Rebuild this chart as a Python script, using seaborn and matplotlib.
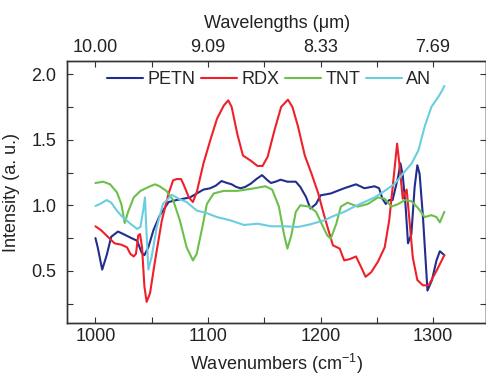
import matplotlib
matplotlib.use("Agg")
import matplotlib.pyplot as plt
from matplotlib.ticker import MultipleLocator, FixedLocator
import numpy as np
import pandas as pd
import seaborn as sns

# wavenumber (cm-1) and intensity
petn_x = [1000, 1002, 1006, 1010, 1014, 1020, 1025, 1032, 1037, 1041, 1043.5, 1047,
          1051.5, 1057, 1065, 1072, 1078, 1084, 1090, 1096, 1102, 1107, 1112, 1117,
          1121, 1125, 1129, 1133, 1138, 1143, 1148, 1153, 1156, 1160, 1164.5, 1170.6,
          1178, 1182, 1187, 1191, 1196, 1200, 1209, 1221, 1231.5, 1239, 1248, 1252,
          1255, 1258, 1261, 1264, 1269, 1271, 1273, 1275.5, 1277.7, 1280.7, 1283.6,
          1286, 1288, 1291, 1295, 1299, 1303, 1306, 1310]
petn_y = [0.75, 0.68, 0.51, 0.62, 0.76, 0.80, 0.78, 0.75, 0.73, 0.64, 0.62, 0.68,
          0.81, 0.92, 1.025, 1.04, 1.05, 1.06, 1.09, 1.12, 1.13, 1.15, 1.185, 1.17,
          1.16, 1.14, 1.13, 1.14, 1.165, 1.20, 1.23, 1.19, 1.17, 1.18, 1.195, 1.18,
          1.18, 1.14, 1.065, 0.975, 1.01, 1.076, 1.09, 1.13, 1.16, 1.13, 1.145, 1.13,
          1.05, 1.01, 1.04, 1.04, 1.22, 1.32, 1.23, 1.0, 0.71, 0.78, 1.14,
          1.305, 1.24, 0.91, 0.35, 0.43, 0.58, 0.65, 0.62]

rdx_x = [1000, 1005, 1011, 1017, 1023, 1028, 1031, 1034, 1036, 1038, 1039.6, 1041.4,
         1043.5, 1045.5, 1048.5, 1053, 1059, 1065, 1069, 1072, 1076, 1078, 1083, 1086.6,
         1090, 1096, 1102, 1108, 1114, 1118, 1121, 1126, 1131, 1138, 1144, 1148.5, 1153,
         1159, 1165, 1171, 1175, 1180, 1186, 1192, 1198, 1202, 1207, 1211, 1217, 1221,
         1226, 1231.5, 1236, 1240, 1245, 1251, 1257, 1261, 1265, 1268, 1270, 1273,
         1276.5, 1279, 1282, 1286, 1291, 1296, 1303, 1310]
rdx_y = [0.84, 0.81, 0.76, 0.71, 0.70, 0.68, 0.63, 0.61, 0.63, 0.77, 0.78, 0.68,
         0.38, 0.264, 0.33, 0.58, 0.885, 1.09, 1.19, 1.20, 1.20, 1.165, 1.06, 1.025,
         1.10, 1.32, 1.495, 1.66, 1.76, 1.80, 1.75, 1.545, 1.38, 1.34, 1.30, 1.30, 1.37,
         1.57, 1.75, 1.805, 1.75, 1.60, 1.38, 1.24, 1.09, 0.96, 0.81, 0.695, 0.67, 0.58,
         0.59, 0.61, 0.53, 0.455, 0.49, 0.57, 0.68, 0.885, 1.215, 1.47, 1.32, 1.05,
         1.12, 0.885, 0.60, 0.43, 0.39, 0.39, 0.50, 0.62]

tnt_x = [1000, 1007, 1013, 1019, 1023, 1026, 1029, 1034, 1040, 1048.5, 1053, 1057,
         1063, 1069, 1075, 1081, 1086.6, 1090, 1095, 1099, 1105, 1114, 1126, 1138,
         1151, 1157, 1163, 1167.5, 1170.5, 1174, 1178, 1182, 1190, 1196, 1202, 1206,
         1209, 1214, 1218, 1224, 1233, 1242, 1251, 1257, 1263, 1269, 1275, 1281, 1287,
         1292.5, 1298.5, 1303, 1306, 1310]
tnt_y = [1.17, 1.18, 1.16, 1.10, 1.01, 0.865, 0.95, 1.06, 1.11, 1.145, 1.16, 1.145,
         1.11, 1.04, 0.885, 0.68, 0.58, 0.63, 0.835, 1.01, 1.09, 1.11, 1.11, 1.125,
         1.145, 1.12, 0.99, 0.78, 0.67, 0.77, 0.95, 1.0, 0.99, 0.95, 0.84, 0.77,
         0.745, 0.86, 0.99, 1.02, 0.99, 1.01, 1.06, 1.05, 0.99, 1.01, 1.04, 1.03, 0.975,
         0.91, 0.925, 0.91, 0.87, 0.95]

an_x = [1000, 1004, 1010, 1014, 1019, 1023, 1031, 1037, 1040, 1042, 1044, 1045, 1047,
        1050, 1054.5, 1060, 1068, 1074, 1081, 1090, 1099, 1108, 1120, 1132, 1144, 1156,
        1168, 1180, 1191, 1203, 1212, 1221, 1230, 1239, 1248, 1257, 1266, 1273, 1281,
        1287, 1292.5, 1298.5, 1304.5, 1308, 1310]
an_y = [0.995, 1.01, 1.04, 1.02, 0.96, 0.92, 0.86, 0.82, 0.835, 0.94, 1.06, 0.86, 0.51,
        0.61, 0.835, 1.01, 1.08, 1.05, 1.025, 0.96, 0.94, 0.91, 0.885, 0.85, 0.86, 0.84,
        0.84, 0.835, 0.855, 0.885, 0.92, 0.95, 0.99, 1.025, 1.06, 1.11, 1.165, 1.24, 1.32,
        1.42, 1.60, 1.75, 1.825, 1.875, 1.91]

top_ticks = [1000, 1100, 1200, 1300]
top_labels = ["10.00", "9.09", "8.33", "7.69"]

frames = []
for name, xs, ys in [("PETN", petn_x, petn_y), ("RDX", rdx_x, rdx_y),
                     ("TNT", tnt_x, tnt_y), ("AN", an_x, an_y)]:
    frames.append(pd.DataFrame({"wn": xs, "val": ys, "sample": name}))
df = pd.concat(frames, ignore_index=True)

palette = {"PETN": "#222e8e", "RDX": "#f0202a", "TNT": "#6cc04a", "AN": "#6acde0"}
fs = 13

sns.set_style("ticks")
plt.rcParams["font.family"] = ["Liberation Sans", "DejaVu Sans"]
plt.rcParams["mathtext.default"] = "regular"

fig = plt.figure(figsize=(4.86, 3.80), dpi=100)
ax = fig.add_axes([0.1385, 0.149, 0.8615, 0.6905])

sns.lineplot(ax=ax, data=df, x="wn", y="val", hue="sample", palette=palette,
             linewidth=1.5, sort=False, estimator=None)

ax.set_xlim(975, 1347)
ax.set_ylim(0.1, 2.1)
ax.xaxis.set_major_locator(MultipleLocator(100))
ax.xaxis.set_minor_locator(MultipleLocator(50))
ax.yaxis.set_major_locator(MultipleLocator(0.5))
ax.yaxis.set_minor_locator(MultipleLocator(0.25))
ax.yaxis.set_major_formatter(matplotlib.ticker.FormatStrFormatter("%.1f"))
ax.tick_params(which="both", direction="in", length=4, width=0.8, colors="#333333",
               labelcolor="#222222", labelsize=fs, right=True)
ax.tick_params(axis="y", pad=8)
ax.set_xlabel("Wavenumbers (cm$^{-1}$)", fontsize=fs, color="#222222", labelpad=5)
ax.set_ylabel("Intensity (a. u.)", fontsize=fs, color="#222222", labelpad=8)
for s in ax.spines.values():
    s.set_color("#333333")
    s.set_linewidth(1.0)

top = ax.twiny()
top.set_xlim(ax.get_xlim())
top.xaxis.set_major_locator(FixedLocator(top_ticks))
top.xaxis.set_minor_locator(MultipleLocator(50))
top.set_xticklabels(top_labels)
top.tick_params(which="both", direction="in", length=4, width=0.8, colors="#333333",
                labelcolor="#222222", labelsize=fs)
top.set_xlabel("Wavelengths (\u03bcm)", fontsize=fs, color="#222222", labelpad=8)
for s in top.spines.values():
    s.set_color("#333333")
    s.set_linewidth(1.0)

ax.legend(ncols=4, loc="upper left", bbox_to_anchor=(0.07, 1.0), frameon=False,
          fontsize=fs, handlelength=2.0, handletextpad=0.25, columnspacing=0.3,
          borderaxespad=0.15, title=None)

fig.savefig("out.png", dpi=100)
